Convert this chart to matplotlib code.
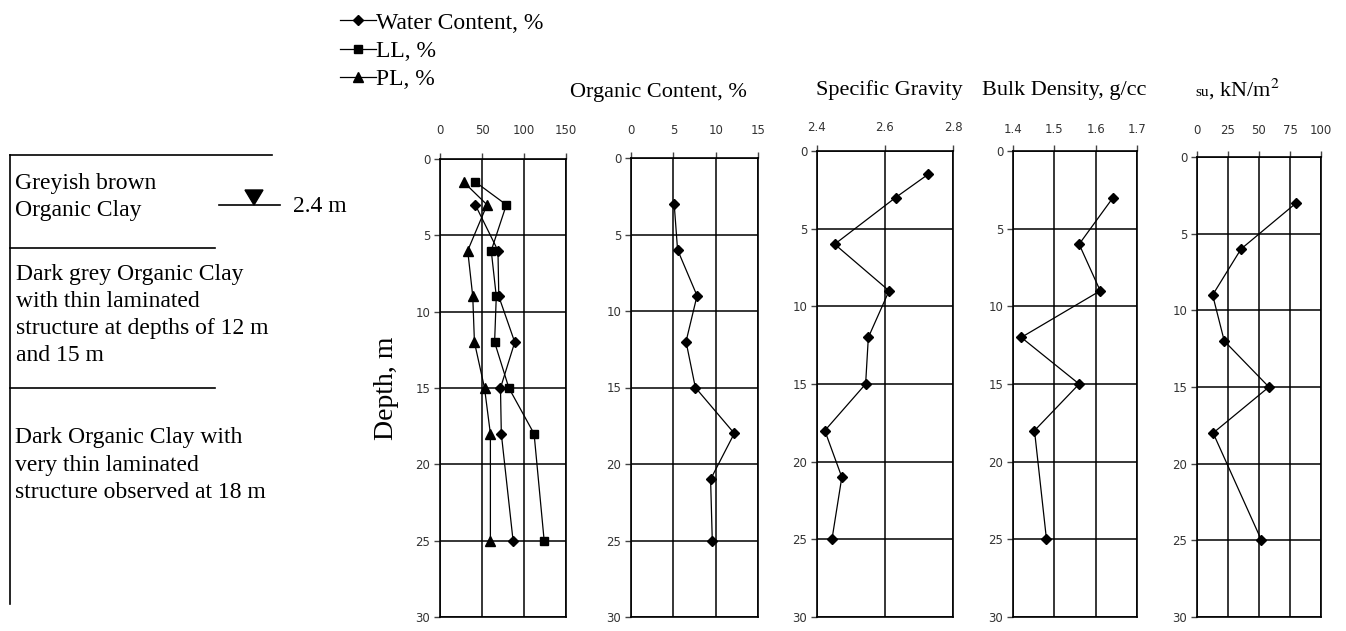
import matplotlib
matplotlib.use('Agg')
import matplotlib.pyplot as plt
from matplotlib.patches import Polygon

# ---------------- data ----------------
depth_ticks = [0, 5, 10, 15, 20, 25, 30]

wc_depth = [3, 6, 9, 12, 15, 18, 25]
water_content = [42, 69, 70, 89, 72, 73, 87]
ll_depth = [1.5, 3, 6, 9, 12, 15, 18, 25]
liquid_limit = [42, 79, 61, 67, 65, 82, 112, 124]
pl_depth = [1.5, 3, 6, 9, 12, 15, 18, 25]
plastic_limit = [28, 56, 33, 39, 41, 53, 60, 60]

oc_depth = [3, 6, 9, 12, 15, 18, 21, 25]
organic_content = [5.1, 5.5, 7.8, 6.5, 7.6, 12.2, 9.4, 9.6]

sg_depth = [1.5, 3, 6, 9, 12, 15, 18, 21, 25]
specific_gravity = [2.727, 2.631, 2.452, 2.612, 2.551, 2.543, 2.423, 2.473, 2.444]

bd_depth = [3, 6, 9, 12, 15, 18, 25]
bulk_density = [1.642, 1.560, 1.611, 1.420, 1.560, 1.452, 1.481]

su_depth = [3, 6, 9, 12, 15, 18, 25]
su_values = [80, 35.5, 12.6, 22, 58, 13, 52]

legend_labels = ["Water Content, %", "LL, %", "PL, %"]
panel_titles = ["Organic Content, %", "Specific Gravity", "Bulk Density, g/cc"]
layer_texts = ["Greyish brown\nOrganic Clay",
               "Dark grey Organic Clay\nwith thin laminated\nstructure at depths of 12 m\nand 15 m",
               "Dark Organic Clay with\nvery thin laminated\nstructure observed at 18 m"]
water_table_label = "2.4 m"

# ---------------- figure ----------------
W, H = 1346, 631
fig = plt.figure(figsize=(W / 100, H / 100), dpi=100)
SERIF = ['Liberation Serif', 'DejaVu Serif']
TICKC = '#333333'
FS = 17
TFS = 16


def fx(x):
    return x / W


def fy(y):
    return 1 - y / H


BOTTOM = 617


def add_panel(x0, x1, ytop, xlim, xticks, xticklabels, pad_top):
    ax = fig.add_axes([fx(x0), fy(BOTTOM), (x1 - x0) / W, (BOTTOM - ytop) / H])
    ax.set_xlim(xlim)
    ax.set_ylim(30, 0)
    ax.xaxis.tick_top()
    ax.set_xticks(xticks)
    ax.set_xticklabels(xticklabels)
    ax.set_yticks(depth_ticks)
    ax.grid(True, color='black', lw=1.1)
    ax.set_axisbelow(True)
    ax.tick_params(axis='both', direction='out', length=4, width=1,
                   color='#444444', labelcolor=TICKC, labelsize=8.5)
    ax.tick_params(axis='x', pad=pad_top)
    ax.tick_params(axis='y', pad=3)
    for s in ax.spines.values():
        s.set_linewidth(1.2)
    return ax


ax1 = add_panel(440, 566, 159, (0, 150), [0, 50, 100, 150], ['0', '50', '100', '150'], 11.5)
ax2 = add_panel(631, 758, 158, (0, 15), [0, 5, 10, 15], ['0', '5', '10', '15'], 11)
ax3 = add_panel(817, 953, 151, (2.4, 2.8), [2.4, 2.6, 2.8], ['2.4', '2.6', '2.8'], 8.5)
ax4 = add_panel(1013, 1137, 151, (1.4, 1.7), [1.4, 1.5, 1.6, 1.7], ['1.4', '1.5', '1.6', '1.7'], 6.5)
ax5 = add_panel(1197, 1321, 157, (0, 100), [0, 25, 50, 75, 100], ['0', '25', '50', '75', '100'], 10.5)

lkw = dict(color='black', lw=0.9)
h1, = ax1.plot(water_content, wc_depth, marker='D', ms=5, **lkw)
h2, = ax1.plot(liquid_limit, ll_depth, marker='s', ms=6, **lkw)
h3, = ax1.plot(plastic_limit, pl_depth, marker='^', ms=7, **lkw)
ax2.plot(organic_content, oc_depth, marker='D', ms=5, **lkw)
ax3.plot(specific_gravity, sg_depth, marker='D', ms=5, **lkw)
ax4.plot(bulk_density, bd_depth, marker='D', ms=5, **lkw)
ax5.plot(su_values, su_depth, marker='D', ms=5, **lkw)

ax1.set_ylabel("Depth, m", fontsize=20, family=SERIF, labelpad=12)

fig.legend([h1, h2, h3], legend_labels, loc='upper left',
           bbox_to_anchor=(fx(326), fy(-2)), frameon=False,
           prop={'family': SERIF, 'size': FS}, handlelength=1.5,
           handletextpad=0.0, labelspacing=0.28, borderaxespad=0.2)

# panel titles
fig.text(fx(658), fy(92), panel_titles[0], family=SERIF, fontsize=TFS, ha='center', va='center')
fig.text(fx(889), fy(90), panel_titles[1], family=SERIF, fontsize=TFS, ha='center', va='center')
fig.text(fx(1064), fy(90), panel_titles[2], family=SERIF, fontsize=TFS, ha='center', va='center')
fig.text(fx(1195), fy(92), "su", family=SERIF, fontsize=11, ha='left', va='center')
fig.text(fx(1208), fy(89), ", kN/m$^2$", family=SERIF, fontsize=TFS, ha='left', va='center',
         math_fontfamily='stix')

# soil profile
line_kw = dict(color='black', lw=1.2, transform=fig.transFigure)
fig.add_artist(plt.Line2D([fx(10), fx(10)], [fy(155), fy(604)], **line_kw))
fig.add_artist(plt.Line2D([fx(10), fx(272)], [fy(155), fy(155)], **line_kw))
fig.add_artist(plt.Line2D([fx(10), fx(215)], [fy(248), fy(248)], **line_kw))
fig.add_artist(plt.Line2D([fx(10), fx(215)], [fy(388), fy(388)], **line_kw))

fig.text(fx(15), fy(197), layer_texts[0], family=SERIF, fontsize=FS, ha='left', va='center',
         linespacing=1.38)
fig.text(fx(16), fy(315), layer_texts[1], family=SERIF, fontsize=FS, ha='left', va='center',
         linespacing=1.38)
fig.text(fx(15), fy(465), layer_texts[2], family=SERIF, fontsize=FS, ha='left', va='center',
         linespacing=1.38)

# water table symbol
fig.add_artist(plt.Line2D([fx(219), fx(280)], [fy(205), fy(205)], **line_kw))
fig.add_artist(Polygon([[fx(245), fy(190)], [fx(263), fy(190)], [fx(254), fy(205)]],
                       closed=True, facecolor='black', edgecolor='black',
                       transform=fig.transFigure))
fig.text(fx(293), fy(207), water_table_label, family=SERIF, fontsize=FS, ha='left', va='center')

fig.savefig('out.png', dpi=100)
